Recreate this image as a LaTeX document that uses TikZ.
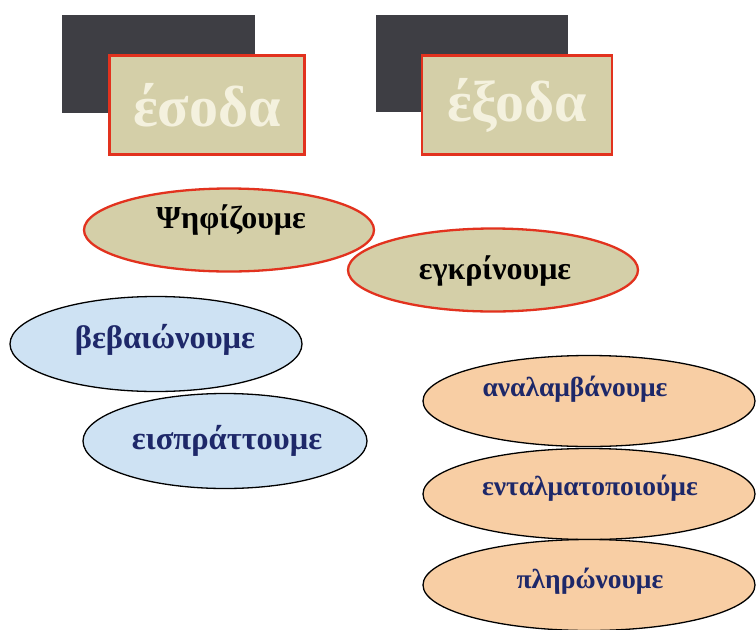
\documentclass[tikz,border=0pt]{standalone}
\usepackage{fontspec}
\setmainfont{Liberation Serif}[BoldFont={Liberation Serif Bold}]
\usetikzlibrary{shapes.geometric}
\definecolor{slate}{RGB}{62,62,68}
\definecolor{khaki}{RGB}{212,207,168}
\definecolor{redline}{RGB}{226,50,30}
\definecolor{skyfill}{RGB}{206,226,243}
\definecolor{peach}{RGB}{248,206,164}
\definecolor{navy}{RGB}{30,40,105}
\definecolor{cream}{RGB}{244,241,222}

\begin{document}
\begin{tikzpicture}[x=1pt, y=-1pt,
    back/.style={fill=slate, draw=none},
    titlebox/.style={rectangle, fill=khaki, draw=redline, line width=2.5pt,
      minimum width=195pt, minimum height=99pt, inner sep=0pt,
      text=cream, font=\fontsize{58}{58}\selectfont\bfseries},
    verb/.style={ellipse, draw, inner sep=0pt},
    approve/.style={verb, fill=khaki, draw=redline, line width=2.3pt,
      minimum width=290pt, minimum height=83pt},
    income/.style={verb, fill=skyfill, line width=1.3pt,
      minimum width=292pt, minimum height=95pt},
    spend/.style={verb, fill=peach, line width=1.3pt,
      minimum width=332pt, minimum height=91pt},
    word/.style={inner sep=0pt, font=\fontsize{#1}{#1}\selectfont\bfseries},
    blueword/.style={word=#1, text=navy}]
  \useasboundingbox[fill=white] (0,0) rectangle (756,630);
  % titles
  \fill[back] (62,15) rectangle (255,113);
  \node[titlebox] (esoda) at (207,105) {έσοδα};
  \fill[back] (376,15) rectangle (568,112);
  \node[titlebox, minimum width=190pt] (exoda) at (517,105) {έξοδα};
  % common steps
  \node[approve] (psifizoume) at (229,230) {};
  \node[word=32] at (231,220) {Ψηφίζουμε};
  \node[approve] (egkrinoume) at (493,270) {};
  \node[word=32] at (495,271) {εγκρίνουμε};
  % revenue side
  \node[income] (vevaionoume) at (156,344) {};
  \node[blueword=32.5] at (165,340) {βεβαιώνουμε};
  \node[income, minimum width=284pt] (eispratoume) at (225,441) {};
  \node[blueword=32.5] at (227,441) {εισπράττουμε};
  % expense side
  \node[spend] (analamvanoume) at (589,401) {};
  \node[blueword=27.5] at (575,389) {αναλαμβάνουμε};
  \node[spend] (entalmatopoioume) at (589,494) {};
  \node[blueword=27.5] at (590,488) {ενταλματοποιούμε};
  \node[spend] (pleronoume) at (589,585) {};
  \node[blueword=27.5] at (590,581) {πληρώνουμε};
\end{tikzpicture}
\end{document}
